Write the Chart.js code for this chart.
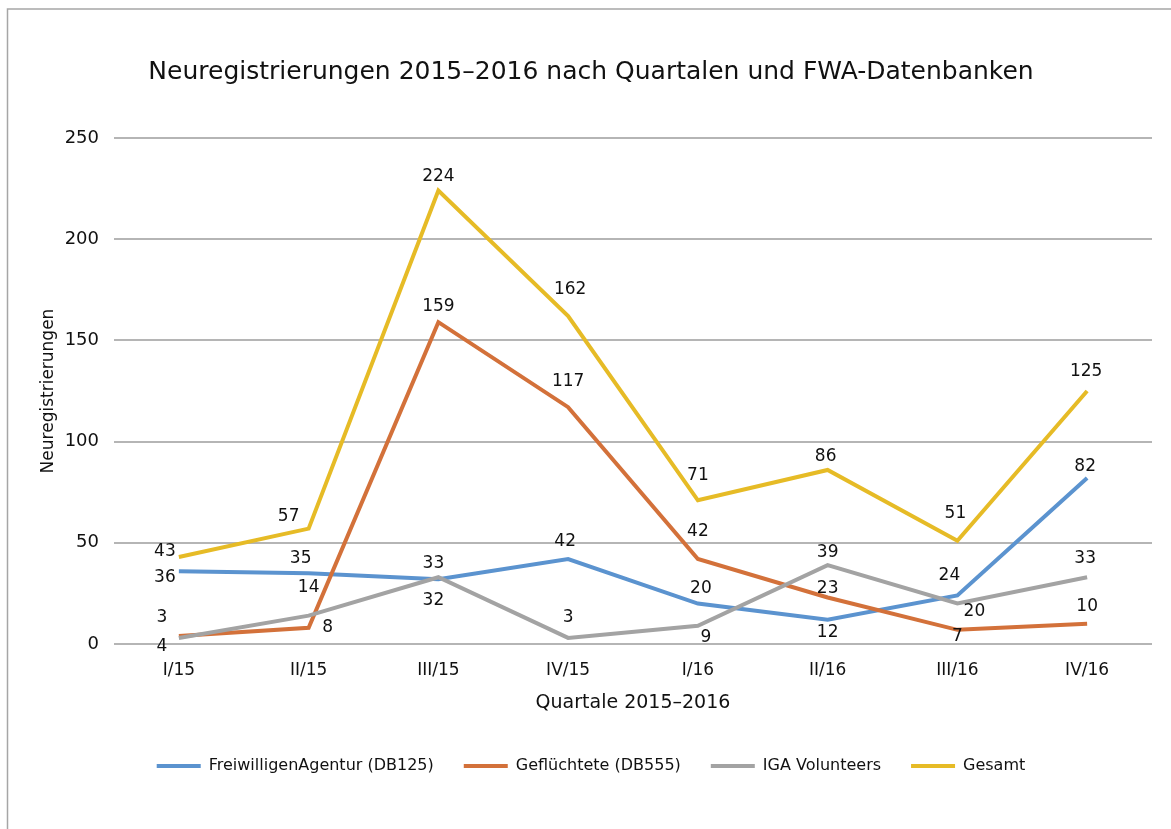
<!DOCTYPE html>
<html>
<head>
<meta charset="utf-8">
<script src="https://cdn.jsdelivr.net/npm/chart.js@4.4.1/dist/chart.umd.min.js"></script>
<style>
 html, body { margin: 0; padding: 0; background: #fff; }
 canvas { display: block; }
</style>
</head>
<body>
<canvas id="regChart" width="1171" height="829"></canvas>
<script>
'use strict';

// quarters on the x axis
const quarters = ['I/15', 'II/15', 'III/15', 'IV/15', 'I/16', 'II/16', 'III/16', 'IV/16']

// new registrations per quarter, one list per database
const freiwilligenAgentur = [36, 35, 32, 42, 20, 12, 24, 82]
const gefluechtete = [4, 8, 159, 117, 42, 23, 7, 10]
const igaVolunteers = [3, 14, 33, 3, 9, 39, 20, 33]
const gesamt = [43, 57, 224, 162, 71, 86, 51, 125]

const seriesNames = ['FreiwilligenAgentur (DB125)', 'Geflüchtete (DB555)', 'IGA Volunteers', 'Gesamt']

// y axis tick values
const yTicks = [0, 50, 100, 150, 200, 250]

const FONT = '"DejaVu Sans", sans-serif'
const TEXT = '#111'
const colors = ['#5b93cf', '#d3713a', '#a3a3a3', '#e6bb26']

// where each value label sits relative to its point (dx, dy in px)
const labelOffsets = [
  [[-14, 6], [-8, -15], [-5, 21], [-3, -17], [3, -15], [0, 13], [-8, -20], [-2, -11]],
  [[-17, 11], [19, 0], [0, -16], [0, -26], [0, -27], [0, -9], [0, 7], [0, -17]],
  [[-17, -20], [0, -28], [-5, -14], [0, -20], [8, 12], [0, -12], [17, 8], [-2, -19]],
  [[-14, -5], [-20, -12], [0, -14], [2, -27], [0, -25], [-2, -13], [-2, -27], [-1, -19]]
]

/*
Plugins
*/

// thin frame at the top and left edge, like the cropped chart box
const frame = {
  id: 'frame',
  beforeDraw(chart) {
    const ctx = chart.ctx
    ctx.save()
    ctx.fillStyle = '#fff'
    ctx.fillRect(0, 0, chart.width, chart.height)
    ctx.strokeStyle = '#a6a6a6'
    ctx.lineWidth = 1.5
    ctx.beginPath()
    ctx.moveTo(7.5, chart.height)
    ctx.lineTo(7.5, 9)
    ctx.lineTo(chart.width, 9)
    ctx.stroke()
    ctx.restore()
  }
}

// value labels next to every point
const pointLabels = {
  id: 'pointLabels',
  afterDatasetsDraw(chart) {
    const ctx = chart.ctx
    ctx.save()
    ctx.font = '17px ' + FONT
    ctx.fillStyle = TEXT
    ctx.textAlign = 'center'
    ctx.textBaseline = 'middle'
    chart.data.datasets.forEach((ds, i) => {
      chart.getDatasetMeta(i).data.forEach((pt, j) => {
        const [dx, dy] = labelOffsets[i][j]
        ctx.fillText(String(ds.data[j]), pt.x + dx, pt.y + dy)
      })
    })
    ctx.restore()
  }
}

const seriesData = [freiwilligenAgentur, gefluechtete, igaVolunteers, gesamt]

const datasets = seriesData.map((values, i) => ({
  label: seriesNames[i],
  data: values,
  borderColor: colors[i],
  backgroundColor: colors[i],
  borderWidth: 4,
  pointRadius: 0,
  pointHoverRadius: 0,
  tension: 0,
  fill: false,
  // later series are drawn on top, as in the original
  order: seriesData.length - i
}))

const config = {
  type: 'line',
  data: { labels: quarters, datasets: datasets },
  options: {
    responsive: false,
    animation: false,
    devicePixelRatio: 1,
    layout: { padding: { left: 30, right: 19, top: 9, bottom: 45 } },
    plugins: {
      tooltip: { enabled: false },
      title: {
        display: true,
        text: 'Neuregistrierungen 2015–2016 nach Quartalen und FWA-Datenbanken',
        color: TEXT,
        font: { family: FONT, size: 25, weight: 'normal', lineHeight: 1.2 },
        padding: { top: 48, bottom: 51 }
      },
      legend: {
        position: 'bottom',
        labels: {
          color: TEXT,
          font: { family: FONT, size: 16 },
          boxWidth: 44,
          boxHeight: 4,
          padding: 30,
          sort: (a, b) => a.datasetIndex - b.datasetIndex,
          generateLabels: chart => Chart.defaults.plugins.legend.labels.generateLabels(chart)
            .map(item => Object.assign(item, { lineWidth: 0 }))
        }
      }
    },
    scales: {
      x: {
        offset: true,
        grid: { display: false, drawTicks: false },
        border: { display: false },
        ticks: { color: TEXT, font: { family: FONT, size: 17 }, padding: 16, maxRotation: 0 },
        title: {
          display: true,
          text: 'Quartale 2015–2016',
          color: TEXT,
          font: { family: FONT, size: 19 },
          padding: { top: 0, bottom: 14 }
        },
        afterFit: scale => { scale.height = 84 }
      },
      y: {
        min: 0,
        max: 250,
        grid: { color: '#b5b5b5', lineWidth: 2, drawTicks: false },
        border: { display: false },
        afterBuildTicks: scale => { scale.ticks = yTicks.map(v => ({ value: v })) },
        ticks: { color: TEXT, font: { family: FONT, size: 18 }, padding: 15 },
        title: {
          display: true,
          text: 'Neuregistrierungen',
          color: TEXT,
          font: { family: FONT, size: 17 },
          padding: { top: 8, bottom: 0 }
        },
        afterFit: scale => { scale.width = 84 }
      }
    }
  },
  plugins: [frame, pointLabels]
}

// draw the chart
new Chart(document.getElementById('regChart'), config)
</script>
</body>
</html>
